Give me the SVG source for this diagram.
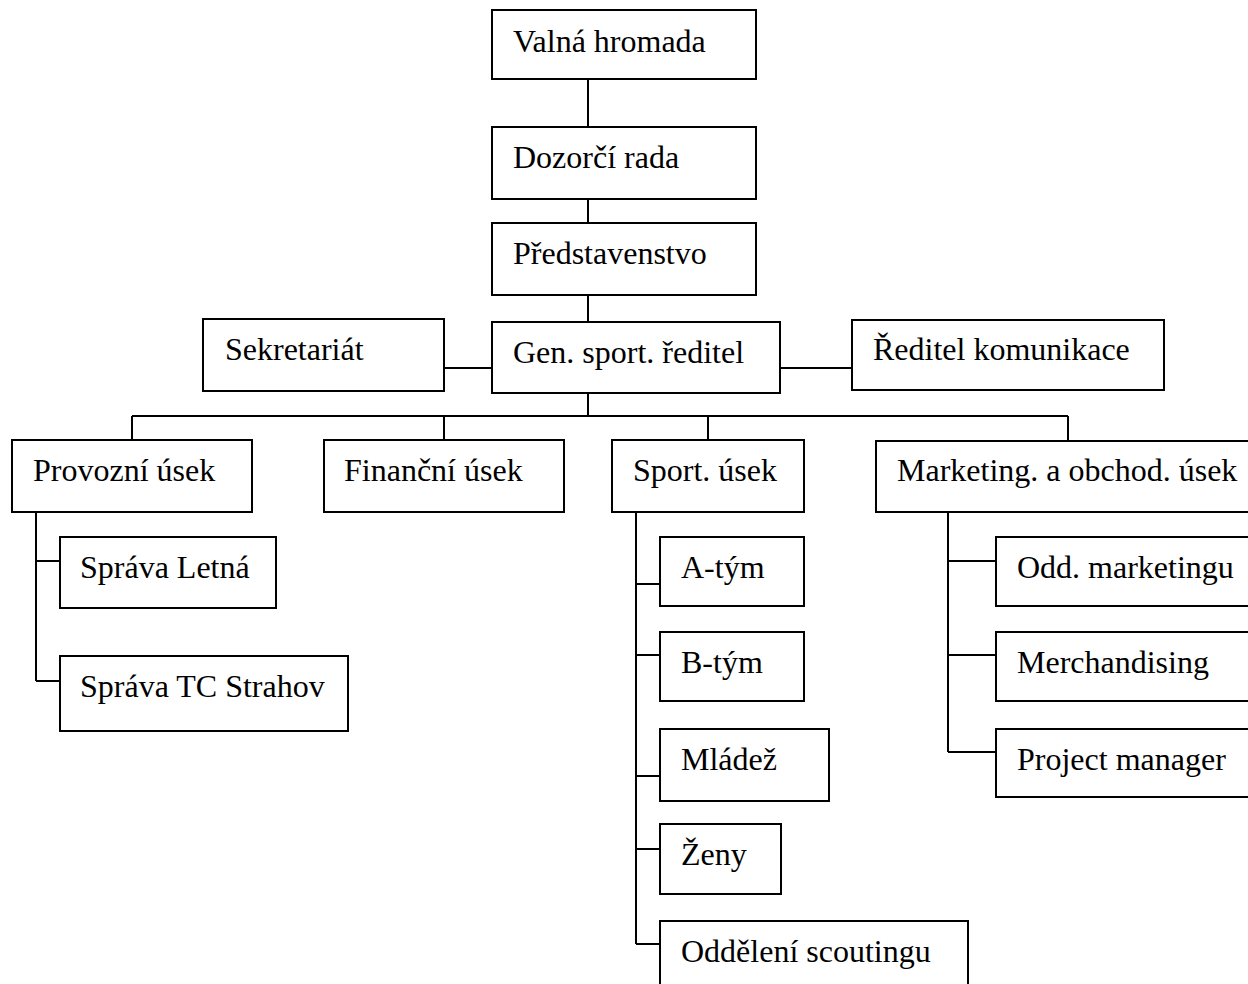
<svg xmlns="http://www.w3.org/2000/svg" width="1248" height="984" viewBox="0 0 1248 984">
<style>
.b{fill:#fff;stroke:#000;stroke-width:2}
.c{fill:none;stroke:#000;stroke-width:2}
text{font-family:"Liberation Serif","Times New Roman",serif;font-size:32px;fill:#000}
</style>
<rect width="1248" height="984" fill="#fff"/>
<g id="connectors" class="c">
<path d="M588 79V127M588 199V223M588 295V322M588 393V416"/>
<path d="M444 368H492M780 368H852"/>
<path d="M132 416H1068M132 416V440M444 416V440M708 416V440M1068 416V440"/>
<path d="M36 512V681M36 561H60M36 681H60"/>
<path d="M636 512V944M636 584H660M636 655H660M636 776H660M636 849H660M636 944H660"/>
<path d="M948 512V752M948 561H996M948 655H996M948 752H996"/>
</g>
<g id="valna"><rect class="b" x="492" y="10" width="264" height="69"/><text x="513" y="52">Valná hromada</text></g>
<g id="dozorci"><rect class="b" x="492" y="127" width="264" height="72"/><text x="513" y="168">Dozorčí rada</text></g>
<g id="predstavenstvo"><rect class="b" x="492" y="223" width="264" height="72"/><text x="513" y="264">Představenstvo</text></g>
<g id="sekretariat"><rect class="b" x="203" y="319" width="241" height="72"/><text x="225" y="360">Sekretariát</text></g>
<g id="gen"><rect class="b" x="492" y="322" width="288" height="71"/><text x="513" y="363">Gen. sport. ředitel</text></g>
<g id="reditel"><rect class="b" x="852" y="320" width="312" height="70"/><text x="873" y="360">Ředitel komunikace</text></g>
<g id="provozni"><rect class="b" x="12" y="440" width="240" height="72"/><text x="33" y="481">Provozní úsek</text></g>
<g id="financni"><rect class="b" x="324" y="440" width="240" height="72"/><text x="344" y="481">Finanční úsek</text></g>
<g id="sport"><rect class="b" x="612" y="440" width="192" height="72"/><text x="633" y="481">Sport. úsek</text></g>
<g id="marketing"><rect class="b" x="876" y="441" width="390" height="71"/><text x="897" y="481">Marketing. a obchod. úsek</text></g>
<g id="letna"><rect class="b" x="60" y="537" width="216" height="71"/><text x="80" y="578">Správa Letná</text></g>
<g id="strahov"><rect class="b" x="60" y="656" width="288" height="75"/><text x="80" y="697">Správa TC Strahov</text></g>
<g id="atym"><rect class="b" x="660" y="537" width="144" height="69"/><text x="681" y="578">A-tým</text></g>
<g id="btym"><rect class="b" x="660" y="632" width="144" height="69"/><text x="681" y="673">B-tým</text></g>
<g id="mladez"><rect class="b" x="660" y="729" width="169" height="72"/><text x="681" y="770">Mládež</text></g>
<g id="zeny"><rect class="b" x="660" y="824" width="121" height="70"/><text x="681" y="865">Ženy</text></g>
<g id="scouting"><rect class="b" x="660" y="921" width="308" height="80"/><text x="681" y="962">Oddělení scoutingu</text></g>
<g id="oddmarketing"><rect class="b" x="996" y="537" width="270" height="69"/><text x="1017" y="578">Odd. marketingu</text></g>
<g id="merch"><rect class="b" x="996" y="632" width="270" height="69"/><text x="1017" y="673">Merchandising</text></g>
<g id="pm"><rect class="b" x="996" y="729" width="270" height="68"/><text x="1017" y="770">Project manager</text></g>
</svg>
